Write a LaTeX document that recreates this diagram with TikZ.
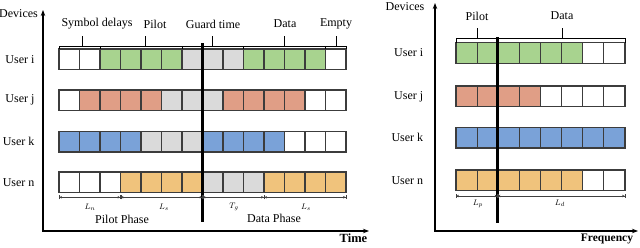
\documentclass[tikz,border=0pt]{standalone}
\usepackage{fontspec}
\setmainfont{Liberation Serif}
\usetikzlibrary{arrows.meta}
\definecolor{cw}{RGB}{255, 255, 255}
\definecolor{cg}{RGB}{168, 211, 143}
\definecolor{cr}{RGB}{224, 158, 134}
\definecolor{cb}{RGB}{122, 162, 216}
\definecolor{co}{RGB}{240, 195, 124}
\definecolor{ce}{RGB}{218, 218, 218}
\definecolor{edge}{RGB}{60, 60, 60}

\begin{document}
\begin{tikzpicture}[x=1pt, y=-1pt, font=\fontsize{12}{13}\selectfont,
  cell/.style={draw=edge, line width=1.2},
  bracket/.style={line width=0.9},
  dimline/.style={{Bar[width=4pt]Stealth[length=2.5pt, width=2.5pt]}-{Stealth[length=2.5pt, width=2.5pt]Bar[width=4pt]}, line width=0.4, draw=black!75},
  dimlabel/.style={font=\fontsize{8.5}{9}\selectfont},
  axis/.style={{Stealth[length=6pt, width=4.5pt]}-{Stealth[length=6pt, width=4.5pt]}, line width=1.1},
  phase/.style={line width=2.3}]

  \useasboundingbox (0, 0) rectangle (640, 247);

  % time slots
  \pgfmathsetmacro{\xa}{59};
  \pgfmathsetmacro{\wa}{20.5};
  \pgfmathsetmacro{\ha}{20.5};

  \foreach \cells/\ytop/\usr in {{w,w,g,g,g,g,e,e,e,g,g,g,g,w}/49/i, {w,r,r,r,r,e,e,e,r,r,r,r,w,w}/90/j,
      {b,b,b,b,e,e,e,b,b,b,b,w,w,w}/131.5/k, {w,w,w,o,o,o,o,e,e,e,o,o,o,o}/172/n} {
    \foreach \c [count=\k from 0] in \cells
      \draw[cell, fill=c\c] ({\xa + \k * \wa}, \ytop) rectangle +(\wa, \ha);
    \node[anchor=east] (tuser\usr) at (38, {\ytop + 0.5 * \ha}) {User \usr};
  }

  \foreach \xl/\xr/\xm/\tx/\txt in {59/100/82/97/Symbol delays, 100/182/145/155/Pilot,
      182/243.5/212/213/Guard time, 243.5/325/284/285/Data, 325/346/336/336/Empty} {
    \draw[bracket] (\xl, 49) -- (\xl, 46.5) -- (\xr, 46.5) -- (\xr, 49);
    \draw[bracket] (\xm, 46.5) -- (\xm, 36);
    \node (tlabel\xm) at (\tx, 24) {\txt};
  }

  \draw[phase] (202.5, 43) -- (202.5, 222);

  \draw[dimline] (59, 197.3) -- (120.5, 197.3);
  \draw[dimline] (120.5, 197.3) -- (202.5, 197.3);
  \draw[dimline] (202.5, 197.3) -- (264, 197.3);
  \draw[dimline] (264, 197.3) -- (346, 197.3);
  \node[dimlabel] (tln) at (90, 207) {$L_n$};
  \node[dimlabel] (tls) at (164, 207) {$L_s$};
  \node[dimlabel] (ttg) at (234, 207) {$T_g$};
  \node[dimlabel] (tld) at (306, 207) {$L_s$};
  \node (pilotphase) at (122, 219) {Pilot Phase};
  \node (dataphase) at (274, 218) {Data Phase};

  \draw[axis] (43, 10) -- (43, 231) -- (369, 231);
  \node (tdev) at (18.5, 14) {Devices};
  \node[font=\fontsize{12.5}{13}\selectfont\bfseries] (ttime) at (353.5, 238.5) {Time};

  % frequency slots
  \pgfmathsetmacro{\xb}{456};
  \pgfmathsetmacro{\wb}{21.125};
  \pgfmathsetmacro{\hb}{20.7};

  \foreach \cells/\ytop/\usr in {{g,g,g,g,g,g,w,w}/42.7/i, {r,r,r,r,w,w,w,w}/86/j,
      {b,b,b,b,b,b,b,b}/127.3/k, {o,o,o,o,o,o,w,w}/170/n} {
    \foreach \c [count=\k from 0] in \cells
      \draw[cell, fill=c\c] ({\xb + \k * \wb}, \ytop) rectangle +(\wb, \hb);
    \node[anchor=east] (fuser\usr) at (426.7, {\ytop + 0.5 * \hb}) {User \usr};
  }

  \draw[bracket] (456, 42.7) -- (456, 38.3) -- (625, 38.3) -- (625, 42.7);
  \draw[bracket] (477, 38.3) -- (477, 28);
  \draw[bracket] (562, 38.3) -- (562, 28);
  \node (fpilot) at (477, 16) {Pilot};
  \node (fdata) at (562, 16) {Data};

  \draw[phase] (497.5, 37) -- (497.5, 223);

  \draw[dimline] (456, 196) -- (497.5, 196);
  \draw[dimline] (497.5, 196) -- (625, 196);
  \node[dimlabel] (flp) at (478, 203.5) {$L_p$};
  \node[dimlabel] (fld) at (560, 203.5) {$L_d$};

  \draw[axis] (435, 3) -- (435, 231) -- (638, 231);
  \node (fdev) at (405, 7) {Devices};
  \node[font=\fontsize{11.5}{13}\selectfont\bfseries] (tfreq) at (607, 238.5) {Frequency};

\end{tikzpicture}
\end{document}
